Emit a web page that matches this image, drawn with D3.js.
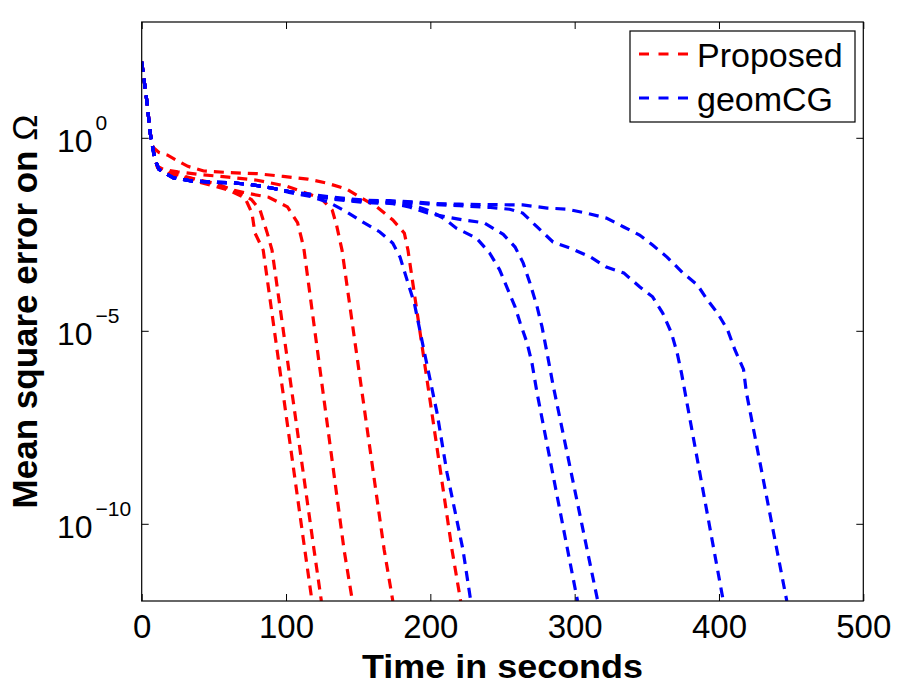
<!DOCTYPE html>
<html lang="en">
<head>
    <meta charset="UTF-8">
    <title>Mean square error on Omega vs time</title>
    <script src="https://d3js.org/d3.v7.min.js"></script>
    <style>
        body { margin: 0; background: #fff; }
        text { font-family: "Liberation Sans", Arial, Helvetica, sans-serif; }
    </style>
</head>
<body>
    <svg id="chart" width="900" height="685"></svg>

    <script>
        // each run: [time in seconds, log10 of mean square error]
        const proposedRun1 = [[0,1.97],[3.5,0.97],[6,0.1],[9,-0.5],[11,-0.78],[15,-0.9],[25,-1.0],[40,-1.15],[50,-1.25],[60,-1.35],[71.6,-1.56],[76.4,-1.95],[78.5,-2.47],[84.2,-2.91],[113,-10.67],[118,-12]];
        const proposedRun2 = [[0,1.97],[3.5,0.97],[6,0.1],[9,-0.5],[11,-0.76],[15,-0.88],[25,-0.98],[40,-1.1],[55,-1.25],[68,-1.43],[76,-1.6],[82,-1.87],[87,-2.47],[90.3,-2.91],[119.4,-10.67],[124.5,-12]];
        const proposedRun3 = [[0,1.97],[3.5,0.97],[6,0.1],[9,-0.5],[11,-0.75],[15,-0.85],[25,-0.95],[40,-1.1],[50,-1.17],[63,-1.35],[75,-1.45],[88,-1.54],[101,-1.79],[108,-2.2],[111,-2.65],[112.5,-2.91],[140.2,-10.67],[146,-12]];
        const proposedRun4 = [[0,1.97],[3.5,0.97],[6,0.1],[9,-0.5],[11,-0.74],[15,-0.82],[25,-0.88],[40,-0.95],[60,-1.02],[80,-1.1],[100,-1.25],[110,-1.38],[124,-1.56],[132,-1.87],[135,-2.26],[138.8,-2.91],[168,-10.67],[174,-12]];
        const proposedRun5 = [[0,1.97],[3.5,0.97],[6,0.1],[8,-0.25],[12,-0.38],[18,-0.45],[25,-0.6],[32,-0.74],[43,-0.86],[60,-0.9],[80,-0.93],[98,-1.0],[115,-1.07],[128,-1.17],[142,-1.33],[151,-1.53],[163,-1.79],[174,-2.13],[182,-2.47],[184.5,-2.91],[215,-10.67],[221,-12]];

        const geomcgRun1 = [[0,1.97],[3.5,0.97],[6,0.1],[9,-0.55],[12,-0.82],[22,-1.04],[35,-1.12],[50,-1.15],[64,-1.17],[77,-1.22],[90,-1.3],[103,-1.42],[117,-1.52],[130,-1.68],[142,-1.92],[153,-2.18],[165,-2.44],[174,-2.73],[179,-3.09],[184,-3.7],[189,-4.3],[195,-5.4],[204.6,-7.12],[211.5,-8.67],[222.6,-10.67],[228,-12]];
        const geomcgRun2 = [[0,1.97],[3.5,0.97],[6,0.1],[9,-0.55],[12,-0.82],[22,-1.04],[35,-1.12],[50,-1.15],[64,-1.17],[77,-1.22],[90,-1.3],[103,-1.4],[117,-1.5],[130,-1.58],[143,-1.63],[156,-1.68],[172,-1.7],[188,-1.75],[200,-1.9],[210,-2.1],[218,-2.34],[232,-2.6],[241,-2.98],[248,-3.42],[253.8,-3.94],[258.7,-4.38],[262.2,-4.79],[267,-5.31],[270.4,-5.83],[273.9,-6.6],[302,-12]];
        const geomcgRun3 = [[0,1.97],[3.5,0.97],[6,0.1],[9,-0.55],[12,-0.82],[22,-1.04],[35,-1.12],[50,-1.15],[64,-1.17],[77,-1.22],[90,-1.3],[103,-1.4],[117,-1.48],[130,-1.56],[143,-1.61],[156,-1.66],[172,-1.68],[186,-1.8],[198,-1.95],[211,-2.05],[223,-2.13],[237,-2.2],[250.5,-2.5],[258.7,-2.83],[264.3,-3.24],[269,-3.76],[274,-4.38],[277.4,-4.9],[281,-5.6],[285,-6.4],[316,-12]];
        const geomcgRun4 = [[0,1.97],[3.5,0.97],[6,0.1],[9,-0.55],[12,-0.82],[22,-1.04],[35,-1.12],[50,-1.15],[64,-1.17],[77,-1.22],[90,-1.3],[103,-1.4],[117,-1.48],[130,-1.55],[143,-1.6],[156,-1.64],[172,-1.65],[188,-1.68],[202,-1.73],[220,-1.76],[240,-1.8],[255,-1.85],[264,-1.95],[274,-2.31],[285,-2.7],[297,-2.86],[311,-3.09],[322,-3.35],[334,-3.5],[345,-3.86],[354,-4.12],[361,-4.54],[367,-5.05],[371,-5.57],[374,-6.09],[376.5,-6.6],[403,-12]];
        const geomcgRun5 = [[0,1.97],[3.5,0.97],[6,0.1],[9,-0.55],[12,-0.82],[22,-1.04],[35,-1.12],[50,-1.15],[64,-1.17],[77,-1.22],[90,-1.3],[103,-1.4],[117,-1.46],[130,-1.53],[143,-1.58],[156,-1.62],[172,-1.63],[188,-1.66],[202,-1.7],[220,-1.72],[240,-1.73],[264,-1.74],[281,-1.82],[295,-1.85],[308,-1.95],[322,-2.08],[334,-2.31],[345,-2.52],[354,-2.78],[364,-3.09],[375,-3.5],[385,-3.81],[392,-4.2],[399,-4.54],[406,-4.98],[411,-5.49],[417,-6.0],[419,-6.6],[447,-12]];

        const seriesNames = ["Proposed", "geomCG"];
        const xTicks = [0, 100, 200, 300, 400, 500];
        const yTickExponents = [0, -5, -10];

        const proposedRuns = [proposedRun1, proposedRun2, proposedRun3, proposedRun4, proposedRun5];
        const geomcgRuns = [geomcgRun1, geomcgRun2, geomcgRun3, geomcgRun4, geomcgRun5];

        const svg = d3.select("#chart"),
              margin = {top: 22, right: 36.7, bottom: 84, left: 141.7},
              width = +svg.attr("width") - margin.left - margin.right,
              height = +svg.attr("height") - margin.top - margin.bottom,
              g = svg.append("g").attr("transform", `translate(${margin.left},${margin.top})`);

        const x = d3.scaleLinear().domain([0, 500]).range([0, width]);
        const y = d3.scaleLog().domain([1e-12, 1e3]).range([height, 0]);
        const color = d3.scaleOrdinal().domain(seriesNames).range(["#ff0000", "#0000ff"]);

        g.append("clipPath").attr("id", "plot-clip")
            .append("rect").attr("width", width).attr("height", height);

        const line = d3.line()
            .x(d => x(d[0]))
            .y(d => y(Math.pow(10, d[1])));

        // ========== LINES ==========
        const lines = g.append("g").attr("clip-path", "url(#plot-clip)");

        const allRuns = [
            ...proposedRuns.map(r => ({name: "Proposed", values: r})),
            ...geomcgRuns.map(r => ({name: "geomCG", values: r}))
        ];

        lines.selectAll("path")
            .data(allRuns)
            .join("path")
            .attr("fill", "none")
            .attr("stroke", d => color(d.name))
            .attr("stroke-width", 3.2)
            .attr("stroke-dasharray", "10,7")
            .attr("d", d => line(d.values));

        // ========== AXES ==========
        const xAxis = g.append("g")
            .attr("transform", `translate(0,${height})`)
            .call(d3.axisBottom(x).tickValues(xTicks).tickSize(-7).tickPadding(14));
        xAxis.select(".domain").remove();
        xAxis.selectAll("text").style("font-size", "33px").attr("fill", "#000");

        const xAxisTop = g.append("g")
            .call(d3.axisTop(x).tickValues(xTicks).tickSize(-7).tickFormat(""));
        xAxisTop.select(".domain").remove();

        const yValues = yTickExponents.map(e => Math.pow(10, e));

        const yAxis = g.append("g")
            .call(d3.axisLeft(y).tickValues(yValues).tickSize(-7).tickFormat(""));
        yAxis.select(".domain").remove();

        const yAxisRight = g.append("g")
            .attr("transform", `translate(${width},0)`)
            .call(d3.axisRight(y).tickValues(yValues).tickSize(-7).tickFormat(""));
        yAxisRight.select(".domain").remove();

        const yLabels = svg.append("g")
            .selectAll("text")
            .data(yTickExponents)
            .join("text")
            .attr("x", 57)
            .attr("y", d => margin.top + y(Math.pow(10, d)) + 14)
            .attr("fill", "#000")
            .style("font-size", "32px");
        yLabels.append("tspan").text("10");
        yLabels.append("tspan")
            .attr("dx", 3)
            .attr("dy", -22)
            .style("font-size", "21px")
            .text(d => d === 0 ? "0" : "\u2212" + Math.abs(d));

        g.append("rect")
            .attr("width", width)
            .attr("height", height)
            .attr("fill", "none")
            .attr("stroke", "#000")
            .attr("stroke-width", 1.2);

        // ========== AXIS TITLES ==========
        svg.append("text")
            .attr("x", margin.left + width / 2)
            .attr("y", 678)
            .attr("text-anchor", "middle")
            .attr("textLength", 281)
            .attr("lengthAdjust", "spacingAndGlyphs")
            .attr("fill", "#000")
            .style("font-size", "33px")
            .style("font-weight", "bold")
            .text("Time in seconds");

        const yTitle = svg.append("text")
            .attr("transform", `translate(37,${margin.top + height / 2}) rotate(-90)`)
            .attr("text-anchor", "middle")
            .attr("fill", "#000")
            .style("font-size", "35px")
            .style("font-weight", "bold");
        yTitle.append("tspan").text("Mean square error on ");
        yTitle.append("tspan").style("font-weight", "normal").text("\u03A9");

        // ========== LEGEND ==========
        const legend = svg.append("g").attr("transform", "translate(630,31)");

        legend.append("rect")
            .attr("width", 225)
            .attr("height", 91)
            .attr("fill", "#fff")
            .attr("stroke", "#000")
            .attr("stroke-width", 1.2);

        const legendItem = legend.selectAll(".legend-item")
            .data(seriesNames)
            .join("g")
            .attr("class", "legend-item")
            .attr("transform", (d, i) => `translate(0,${23 + i * 44})`);

        legendItem.append("line")
            .attr("x1", 9)
            .attr("x2", 58)
            .attr("stroke", d => color(d))
            .attr("stroke-width", 3.2)
            .attr("stroke-dasharray", "10,9.5");

        legendItem.append("text")
            .attr("x", 67)
            .attr("y", 12.5)
            .attr("fill", "#000")
            .style("font-size", "34px")
            .text(d => d);
    </script>
</body>
</html>
